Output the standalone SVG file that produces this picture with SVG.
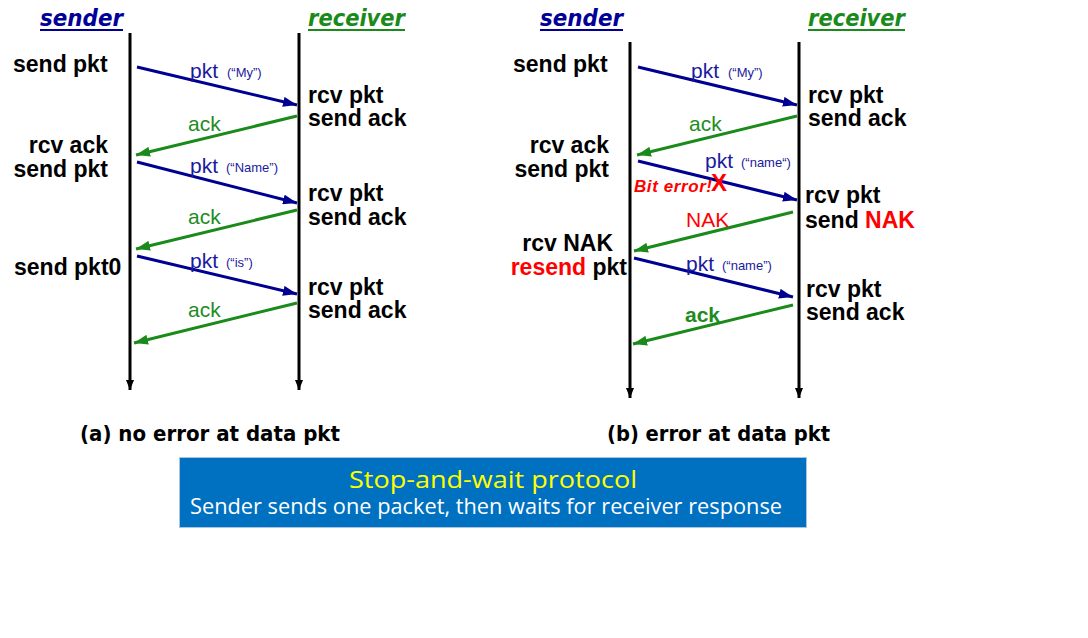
<svg xmlns="http://www.w3.org/2000/svg" width="1088" height="638" viewBox="0 0 1088 638">
<defs>
<style>
.lab{font-family:"Liberation Sans",Arial,sans-serif;font-weight:bold;font-size:23px;fill:#000}
.hdr{font-family:"DejaVu Sans",Verdana,sans-serif;font-weight:bold;font-style:italic;font-size:23px}
.pk{font-family:"Liberation Sans",Arial,sans-serif;font-size:21px;fill:#1a1aa0}
.pks{font-family:"Liberation Sans",Arial,sans-serif;font-size:13px;fill:#1a1aa0}
.ak{font-family:"Liberation Sans",Arial,sans-serif;font-size:21px;fill:#1e8c1e}
.cap{font-family:"DejaVu Sans",Verdana,sans-serif;font-weight:bold;font-size:21px;fill:#000}
.red{fill:#ff0000}
.life{stroke:#000;stroke-width:3;fill:none}
.blue{stroke:#000090;stroke-width:3;fill:none}
.green{stroke:#1a8a1a;stroke-width:3;fill:none}
</style>
<marker id="mb" markerUnits="userSpaceOnUse" markerWidth="14" markerHeight="10" refX="14" refY="5" orient="auto"><path d="M0,0 L14,5 L0,10 z" fill="#000090"/></marker>
<marker id="mg" markerUnits="userSpaceOnUse" markerWidth="14" markerHeight="10" refX="14" refY="5" orient="auto"><path d="M0,0 L14,5 L0,10 z" fill="#1a8a1a"/></marker>
<marker id="mk" markerUnits="userSpaceOnUse" markerWidth="10" markerHeight="8" refX="10" refY="4" orient="auto"><path d="M0,0 L10,4 L0,8 z" fill="#000"/></marker>
</defs>

<g id="lifelines">
<line class="life" x1="130" y1="33" x2="130" y2="390" marker-end="url(#mk)"/>
<line class="life" x1="299" y1="33" x2="299" y2="390" marker-end="url(#mk)"/>
<line class="life" x1="630" y1="42" x2="630" y2="398" marker-end="url(#mk)"/>
<line class="life" x1="799" y1="42" x2="799" y2="398" marker-end="url(#mk)"/>
</g>

<g id="connectors">
<line class="blue" x1="137" y1="67" x2="297" y2="105" marker-end="url(#mb)"/>
<line class="green" x1="297" y1="116" x2="136" y2="155" marker-end="url(#mg)"/>
<line class="blue" x1="137" y1="162" x2="297" y2="203" marker-end="url(#mb)"/>
<line class="green" x1="297" y1="210" x2="136" y2="249" marker-end="url(#mg)"/>
<line class="blue" x1="137" y1="256" x2="297" y2="294" marker-end="url(#mb)"/>
<line class="green" x1="297" y1="303" x2="134" y2="343" marker-end="url(#mg)"/>

<line class="blue" x1="638" y1="67" x2="797" y2="105" marker-end="url(#mb)"/>
<line class="green" x1="797" y1="116" x2="637" y2="155" marker-end="url(#mg)"/>
<line class="blue" x1="638" y1="161" x2="797" y2="200" marker-end="url(#mb)"/>
<line class="green" x1="793" y1="212" x2="634" y2="251" marker-end="url(#mg)"/>
<line class="blue" x1="634" y1="258" x2="793" y2="297" marker-end="url(#mb)"/>
<line class="green" x1="793" y1="305" x2="633" y2="344" marker-end="url(#mg)"/>
</g>

<g id="header-a">
<text class="hdr" x="40" y="26" fill="#000099" textLength="83" lengthAdjust="spacingAndGlyphs">sender</text>
<line x1="40" y1="30" x2="123" y2="30" stroke="#000099" stroke-width="2"/>
<text class="hdr" x="308" y="26" fill="#1a8a1a" textLength="97" lengthAdjust="spacingAndGlyphs">receiver</text>
<line x1="308" y1="30" x2="405" y2="30" stroke="#1a8a1a" stroke-width="2"/>
</g>

<g id="sender-a">
<text class="lab" x="13" y="72">send pkt</text>
<text class="lab" text-anchor="end"><tspan x="108" y="153">rcv ack</tspan><tspan x="108" y="177">send pkt</tspan></text>
<text class="lab" x="14" y="275">send pkt0</text>
</g>

<g id="receiver-a">
<text class="lab"><tspan x="308" y="103">rcv pkt</tspan><tspan x="308" y="126">send ack</tspan></text>
<text class="lab"><tspan x="308" y="201">rcv pkt</tspan><tspan x="308" y="225">send ack</tspan></text>
<text class="lab"><tspan x="308" y="295">rcv pkt</tspan><tspan x="308" y="318">send ack</tspan></text>
</g>

<g id="msglabels-a">
<text class="pk" x="190" y="78">pkt</text><text class="pks" x="227" y="77">(“My”)</text>
<text class="ak" x="188" y="131">ack</text>
<text class="pk" x="190" y="173">pkt</text><text class="pks" x="226" y="172">(“Name”)</text>
<text class="ak" x="188" y="224">ack</text>
<text class="pk" x="190" y="268">pkt</text><text class="pks" x="226" y="267">(“is”)</text>
<text class="ak" x="188" y="317">ack</text>
</g>

<g id="header-b">
<text class="hdr" x="540" y="26" fill="#000099" textLength="83" lengthAdjust="spacingAndGlyphs">sender</text>
<line x1="540" y1="30" x2="623" y2="30" stroke="#000099" stroke-width="2"/>
<text class="hdr" x="808" y="26" fill="#1a8a1a" textLength="97" lengthAdjust="spacingAndGlyphs">receiver</text>
<line x1="808" y1="30" x2="905" y2="30" stroke="#1a8a1a" stroke-width="2"/>
</g>

<g id="sender-b">
<text class="lab" x="513" y="72">send pkt</text>
<text class="lab" text-anchor="end"><tspan x="609" y="153">rcv ack</tspan><tspan x="609" y="177">send pkt</tspan></text>
<text class="lab" text-anchor="end"><tspan x="613" y="251">rcv NAK</tspan><tspan x="627" y="275"><tspan class="red">resend</tspan> pkt</tspan></text>
</g>

<g id="receiver-b">
<text class="lab"><tspan x="808" y="103">rcv pkt</tspan><tspan x="808" y="126">send ack</tspan></text>
<text class="lab"><tspan x="805" y="203">rcv pkt</tspan><tspan x="805" y="228">send <tspan class="red">NAK</tspan></tspan></text>
<text class="lab"><tspan x="806" y="297">rcv pkt</tspan><tspan x="806" y="320">send ack</tspan></text>
</g>

<g id="msglabels-b">
<text class="pk" x="691" y="78">pkt</text><text class="pks" x="728" y="77">(“My”)</text>
<text class="ak" x="689" y="131">ack</text>
<text class="pk" x="705" y="168">pkt</text><text class="pks" x="741" y="167">(“name“)</text>
<text x="634" y="192" font-family="Liberation Sans,Arial,sans-serif" font-weight="bold" font-style="italic" font-size="17" fill="#ff0000" textLength="78">Bit error!</text>
<text x="711" y="191" font-family="Liberation Sans,Arial,sans-serif" font-weight="bold" font-size="24" fill="#ff0000">X</text>
<text x="686" y="227" font-family="Liberation Sans,Arial,sans-serif" font-size="21" fill="#ff0000">NAK</text>
<text class="pk" x="686" y="271">pkt</text><text class="pks" x="722" y="270">(“name”)</text>
<text class="ak" x="685" y="322" font-weight="bold" font-size="20">ack</text>
</g>

<g id="captions">
<text class="cap" x="80" y="441" textLength="260" lengthAdjust="spacingAndGlyphs">(a) no error at data pkt</text>
<text class="cap" x="607" y="441" textLength="223" lengthAdjust="spacingAndGlyphs">(b) error at data pkt</text>
</g>

<g id="summary">
<rect x="179.5" y="457.5" width="627" height="70" fill="#0070c0" stroke="#a8c4de" stroke-width="1"/>
<text x="349" y="488" font-family="Open Sans,Liberation Sans,sans-serif" font-size="23" fill="#ffff00" textLength="288" lengthAdjust="spacingAndGlyphs">Stop-and-wait protocol</text>
<text x="190" y="514" font-family="Open Sans,Liberation Sans,sans-serif" font-size="21" fill="#ffffff" textLength="592" lengthAdjust="spacingAndGlyphs">Sender sends one packet, then waits for receiver response</text>
</g>
</svg>
